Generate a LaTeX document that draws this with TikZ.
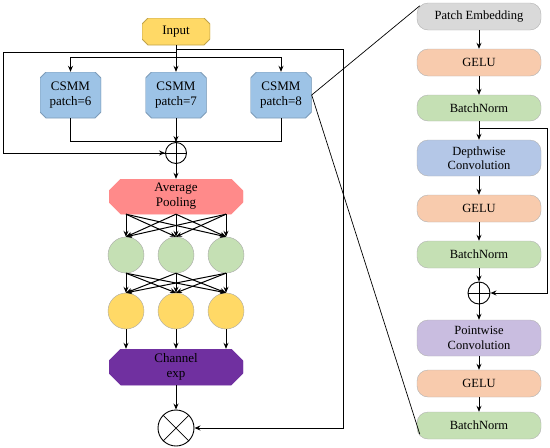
\documentclass[tikz,border=0pt]{standalone}
\usepackage{fontspec}
\setmainfont{Liberation Serif}
\usetikzlibrary{shapes.geometric,arrows.meta}
\definecolor{cinput}{HTML}{FFD966}
\definecolor{ccsmm}{HTML}{9DC3E6}
\definecolor{cavg}{HTML}{FF8A8A}
\definecolor{cgreen}{HTML}{C5E0B4}
\definecolor{cpurple}{HTML}{7030A0}
\definecolor{cgray}{HTML}{D9D9D9}
\definecolor{corange}{HTML}{F8CBAD}
\definecolor{cblue}{HTML}{B4C7E7}
\definecolor{clav}{HTML}{C9BDE0}
\tikzset{
  arr/.style={-{Stealth[length=6pt,width=5pt]}, line width=1pt},
  ln/.style={line width=1pt},
  chbox/.style n args={3}{rectangle, inner sep=0pt, align=center, font=\fontsize{13}{15}\selectfont,
    path picture={\path[fill=#1, draw=#2, line width=0.8pt]
      ([xshift=#3]path picture bounding box.north west) -- ([xshift=-#3]path picture bounding box.north east)
      -- ([yshift=-#3]path picture bounding box.north east) -- ([yshift=#3]path picture bounding box.south east)
      -- ([xshift=-#3]path picture bounding box.south east) -- ([xshift=#3]path picture bounding box.south west)
      -- ([yshift=#3]path picture bounding box.south west) -- ([yshift=-#3]path picture bounding box.north west) -- cycle;}},
  neuron/.style={circle, minimum size=36pt, inner sep=0pt, draw=gray!70, line width=0.4pt},
  opc/.style={circle, draw, line width=0.9pt, inner sep=0pt},
  rbox/.style={rectangle, rounded corners=11pt, minimum width=124pt, inner sep=0pt, align=center, font=\fontsize{12.5}{14.5}\selectfont, draw=gray!60, line width=0.4pt},
}
\begin{document}
\begin{tikzpicture}[x=1pt,y=-1pt]
\useasboundingbox (0,0) rectangle (550,448);
% left column
\node[chbox={cinput}{cinput!75!black}{6pt}, minimum width=68pt, minimum height=27pt] (in) at (176,31.5) {Input};
\node[chbox={ccsmm}{ccsmm!80!black}{6pt}, minimum width=61pt, minimum height=46pt] (c6) at (70.5,95) {CSMM\\patch=6};
\node[chbox={ccsmm}{ccsmm!80!black}{6pt}, minimum width=61pt, minimum height=46pt] (c7) at (176,95) {CSMM\\patch=7};
\node[chbox={ccsmm}{ccsmm!80!black}{6pt}, minimum width=61pt, minimum height=46pt] (c8) at (281,95) {CSMM\\patch=8};
\node[opc, minimum size=21pt] (p1) at (176,153) {};
\draw[line width=0.7pt] (p1.north) -- (p1.south) (p1.west) -- (p1.east);
\node[chbox={cavg}{cavg}{12pt}, minimum width=134pt, minimum height=35pt] (avg) at (176,196.5) {Average\\Pooling};
\foreach \i/\x in {1/126,2/176,3/226} {
  \node[neuron, fill=cgreen] (g\i) at (\x,255) {};
  \node[neuron, fill=cinput] (y\i) at (\x,311) {};
}
\node[chbox={cpurple}{cpurple}{12pt}, minimum width=134pt, minimum height=36pt] (ch) at (176,367) {Channel\\exp};
\node[opc, minimum size=36pt] (tm) at (176,428) {};
\draw[line width=0.7pt] (tm.north west) -- (tm.south east) (tm.north east) -- (tm.south west);

% connectors left
\coordinate (ja) at (176,52);
\coordinate (jb) at (176,49);
\coordinate (lf) at (3,52);
\coordinate (rt) at (343,49);
\coordinate (dl) at (70.5,57);
\coordinate (dr) at (281,57);
\draw[ln] (in.south) -- (ja) -- (lf) |- (p1.west);
\draw[arr] (lf |- p1.west) -- (p1.west);
\draw[ln] (jb) -- (rt);
\draw[arr] (rt) |- (tm.east);
\draw[arr] (in.south) -- (c7.north);
\draw[ln] (dl) -- (dr);
\draw[arr] (dl) -- (c6.north);
\draw[arr] (dr) -- (c8.north);
\coordinate (mj) at (176,141);
\draw[ln] (c6.south) |- (mj);
\draw[ln] (c8.south) |- (mj);
\draw[arr] (c7.south) -- (p1.north);
\draw[arr] (p1.south) -- (avg.north);
\foreach \i in {1,2,3} {
  \foreach \j in {1,2,3} {
    \draw[arr] (avg.south -| g\i) -- (g\j.north);
    \draw[arr] (g\i.south) -- (y\j.north);
  }
  \draw[arr] (y\i.south) -- (ch.north -| y\i);
}
\draw[arr] (ch.south) -- (tm.north);

% right column
\node[rbox, fill=cgray, minimum height=27pt] (pe) at (479,16.5) {Patch Embedding};
\node[rbox, fill=corange, minimum height=27pt] (ge1) at (479,62.5) {GELU};
\node[rbox, fill=cgreen, minimum height=26pt] (bn1) at (479,108) {BatchNorm};
\node[rbox, fill=cblue, minimum height=36pt] (dw) at (479,158) {Depthwise\\Convolution};
\node[rbox, fill=corange, minimum height=27pt] (ge2) at (479,208.5) {GELU};
\node[rbox, fill=cgreen, minimum height=27pt] (bn2) at (479,254.5) {BatchNorm};
\node[opc, minimum size=22pt] (p2) at (479,293) {};
\draw[line width=0.7pt] (p2.north) -- (p2.south) (p2.west) -- (p2.east);
\node[rbox, fill=clav, minimum height=36pt] (pw) at (479,338) {Pointwise\\Convolution};
\node[rbox, fill=corange, minimum height=27pt] (ge3) at (479,383.5) {GELU};
\node[rbox, fill=cgreen, minimum height=27pt] (bn3) at (479,425.5) {BatchNorm};

\draw[arr] (pe) -- (ge1);
\draw[arr] (ge1) -- (bn1);
\draw[arr] (bn1) -- (dw);
\draw[arr] (dw) -- (ge2);
\draw[arr] (ge2) -- (bn2);
\draw[arr] (bn2) -- (p2);
\draw[arr] (p2) -- (pw);
\draw[arr] (pw) -- (ge3);
\draw[arr] (ge3) -- (bn3);
\coordinate (sk) at (479,128);
\coordinate (skr) at (547,128);
\draw[ln] (sk) -- (skr);
\draw[arr] (skr) |- (p2.east);

% zoom lines
\draw[line width=0.7pt] (c8.east) -- ([shift={(3,3)}]pe.north west);
\draw[line width=0.7pt] (c8.east) -- ([shift={(3,-5)}]bn3.south west);
\end{tikzpicture}
\end{document}
